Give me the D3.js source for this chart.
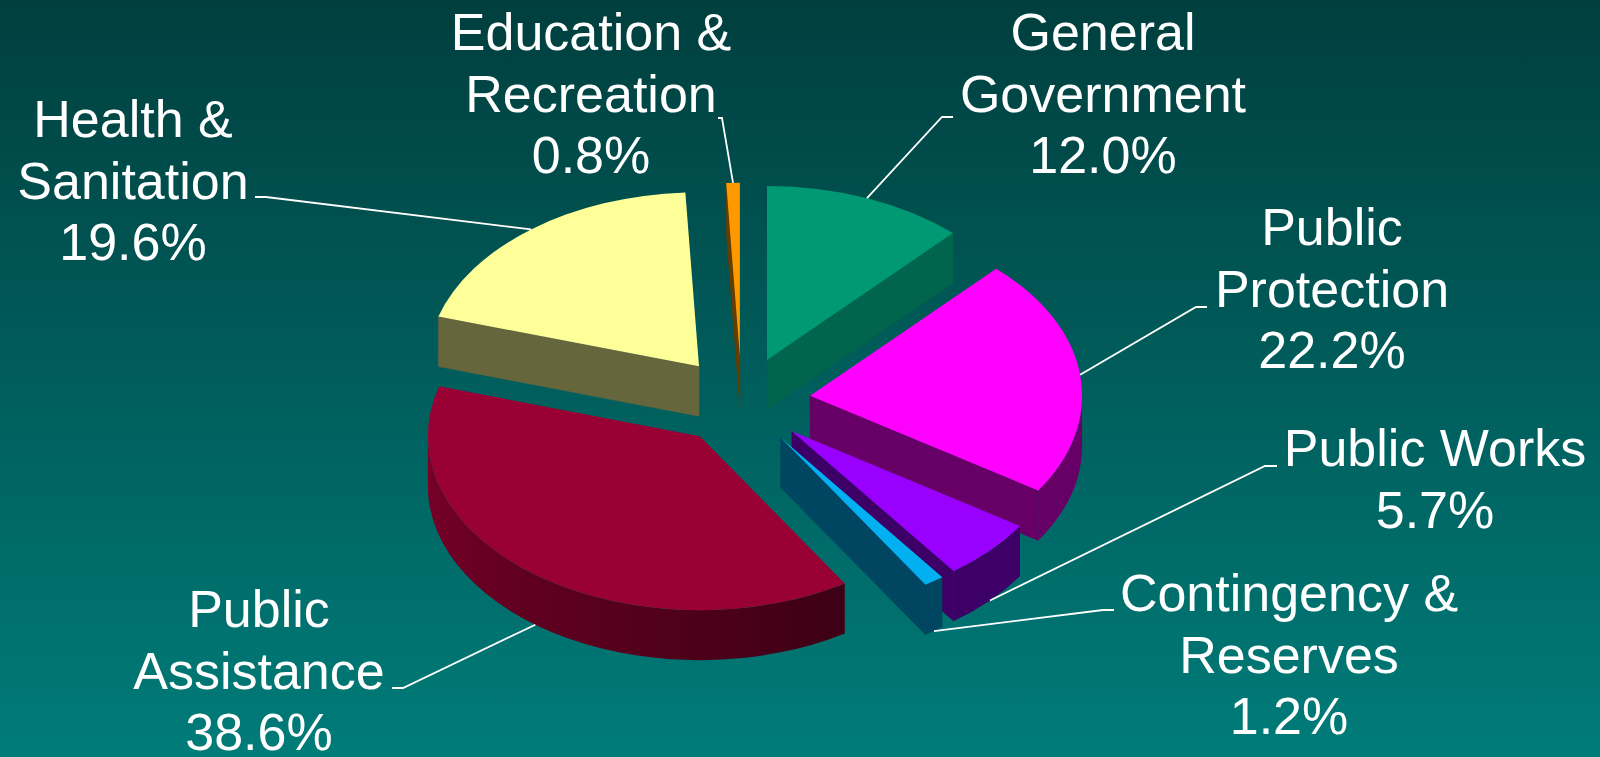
<!DOCTYPE html>
<html>
<head>
<meta charset="utf-8">
<script src="https://cdn.jsdelivr.net/npm/d3@7"></script>
<style>
  html, body { margin: 0; padding: 0; background: #005a5a; }
  svg { display: block; }
</style>
</head>
<body>
<svg id="chart" width="1600" height="757"></svg>
<script>
// ---------------- DATA ----------------
const categories = [
  "General Government",
  "Public Protection",
  "Public Works",
  "Contingency & Reserves",
  "Public Assistance",
  "Health & Sanitation",
  "Education & Recreation"
];
const values = [12.0, 22.2, 5.7, 1.2, 38.6, 19.6, 0.8];
const colors = ["#009973", "#ff00ff", "#9900ff", "#00b0f0", "#990033", "#ffff99", "#ff9900"];

// ---------------- LAYOUT ----------------
const W = 1600, H = 757;
const geo = { cx: 741.6, cy: 401, rx: 272, ry: 174, depth: 50, explode: 69 };
// label layout: centre x, first baseline, words on first line, leader elbow & end
const labelLayout = [
  { x: 1103, y: 50,  split: 1, elbow: [942, 117],  end: [953, 117] },
  { x: 1332, y: 245, split: 1, elbow: [1196, 307], end: [1207, 307] },
  { x: 1435, y: 466, split: 2, elbow: [1265, 466], end: [1277, 466] },
  { x: 1289, y: 611, split: 2, elbow: [1103, 610], end: [1114, 610] },
  { x: 259,  y: 627, split: 1, elbow: [403, 688],  end: [392, 688] },
  { x: 133,  y: 137, split: 2, elbow: [266, 197],  end: [255, 197] },
  { x: 591,  y: 50,  split: 2, elbow: [722, 118],  end: [718, 118] }
];
const lineStep = 61.5;
const fontSize = 52;

// ---------------- DRAW ----------------
const svg = d3.select("#chart");
const defs = svg.append("defs");

const bg = defs.append("linearGradient").attr("id", "bg")
  .attr("x1", 0).attr("y1", 0).attr("x2", 0).attr("y2", 1);
bg.append("stop").attr("offset", 0).attr("stop-color", "#003f3e");
bg.append("stop").attr("offset", 1).attr("stop-color", "#007c79");
svg.append("rect").attr("width", W).attr("height", H).attr("fill", "url(#bg)");

const pie = d3.pie().sort(null).value(d => d).startAngle(0).endAngle(2 * Math.PI);
const arcs = pie(values).map((a, i) => {
  const m = (a.startAngle + a.endAngle) / 2;
  return {
    i, a: a.startAngle, b: a.endAngle, m,
    ox: geo.cx + geo.explode * Math.sin(m),
    oy: geo.cy - geo.explode * Math.cos(m) * geo.ry / geo.rx
  };
});

function pt(s, t, dz = 0) {
  return [s.ox + geo.rx * Math.sin(t), s.oy - geo.ry * Math.cos(t) + dz];
}
function shade(c, f) {
  const r = d3.rgb(c);
  return d3.rgb(r.r * f, r.g * f, r.b * f).formatHex();
}
function sideFactor(t) {
  const deg = t * 180 / Math.PI;
  return 0.4 + 0.4 * Math.max(0, Math.min(1, (deg - 150) / 120));
}

const order = arcs.slice().sort((p, q) => (-Math.cos(p.m)) - (-Math.cos(q.m)));
const gPie = svg.append("g");
const d = geo.depth;

order.forEach(s => {
  const g = gPie.append("g");
  const base = colors[s.i];
  const apex = [s.ox, s.oy];
  // radial faces
  const radial = (t, normalDeg) => {
    const p1 = pt(s, t), p2 = pt(s, t, d);
    const f = normalDeg < 180 ? 0.66 : 0.4;
    g.append("path")
      .attr("d", `M${apex[0]},${apex[1]}L${p1[0]},${p1[1]}L${p2[0]},${p2[1]}L${apex[0]},${apex[1] + d}Z`)
      .attr("fill", shade(base, f))
      .attr("stroke", shade(base, f)).attr("stroke-width", 0.5);
  };
  if (Math.sin(s.a) < -0.001) radial(s.a, (s.a * 180 / Math.PI - 90 + 360) % 360);
  if (Math.sin(s.b) > 0.001) radial(s.b, (s.b * 180 / Math.PI + 90) % 360);

  // outer curved face
  const t1 = Math.max(s.a, Math.PI / 2), t2 = Math.min(s.b, 3 * Math.PI / 2);
  if (t2 > t1) {
    const p1 = pt(s, t1), p2 = pt(s, t2), p3 = pt(s, t2, d), p4 = pt(s, t1, d);
    const large = (t2 - t1) > Math.PI ? 1 : 0;
    const gid = "side" + s.i;
    const grad = defs.append("linearGradient").attr("id", gid)
      .attr("gradientUnits", "userSpaceOnUse")
      .attr("x1", p1[0]).attr("y1", 0).attr("x2", p2[0]).attr("y2", 0);
    const span = p2[0] - p1[0];
    d3.range(0, 21).forEach(k => {
      const t = t1 + k / 20 * (t2 - t1);
      const off = Math.abs(span) < 1e-6 ? k / 20 : (pt(s, t)[0] - p1[0]) / span;
      grad.append("stop").attr("offset", Math.max(0, Math.min(1, off)))
        .attr("stop-color", shade(base, sideFactor(t)));
    });
    g.append("path")
      .attr("d", `M${p1[0]},${p1[1]}A${geo.rx},${geo.ry} 0 ${large} 1 ${p2[0]},${p2[1]}` +
                 `L${p3[0]},${p3[1]}A${geo.rx},${geo.ry} 0 ${large} 0 ${p4[0]},${p4[1]}Z`)
      .attr("fill", `url(#${gid})`);
  }

  // top face
  const q1 = pt(s, s.a), q2 = pt(s, s.b);
  const largeTop = (s.b - s.a) > Math.PI ? 1 : 0;
  g.append("path")
    .attr("d", `M${apex[0]},${apex[1]}L${q1[0]},${q1[1]}A${geo.rx},${geo.ry} 0 ${largeTop} 1 ${q2[0]},${q2[1]}Z`)
    .attr("fill", base);
});

// leader lines
const gLead = svg.append("g");
arcs.forEach(s => {
  const L = labelLayout[s.i];
  const front = Math.cos(s.m) < 0;
  const start = front ? pt(s, s.m, d) : pt(s, s.m);
  gLead.append("polyline")
    .attr("points", [start, L.elbow, L.end].map(p => p.join(",")).join(" "))
    .attr("fill", "none").attr("stroke", "#ffffff").attr("stroke-width", 1.8);
});

// labels
const gLab = svg.append("g")
  .attr("font-family", "'Liberation Sans', Arial, Helvetica, sans-serif")
  .attr("font-size", fontSize).attr("fill", "#ffffff").attr("text-anchor", "middle");
categories.forEach((name, i) => {
  const L = labelLayout[i];
  const words = name.split(" ");
  const lines = [words.slice(0, L.split).join(" ")];
  if (words.length > L.split) lines.push(words.slice(L.split).join(" "));
  lines.push(values[i].toFixed(1) + "%");
  const t = gLab.append("text").attr("x", L.x).attr("y", L.y);
  lines.forEach((ln, k) => {
    t.append("tspan").attr("x", L.x).attr("y", L.y + k * lineStep).text(ln);
  });
});
</script>
</body>
</html>
